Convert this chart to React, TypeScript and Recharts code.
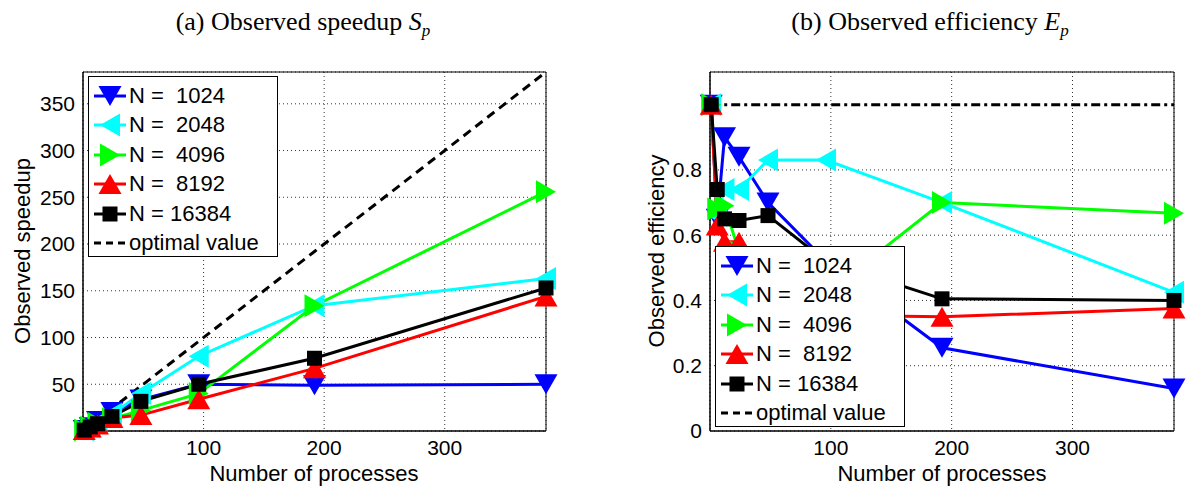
import { LineChart, Line, XAxis, YAxis, CartesianGrid, Legend, ReferenceArea } from 'recharts';

const sans = "'Liberation Sans', Arial, Helvetica, sans-serif";
const serif = "'Liberation Serif', 'Times New Roman', serif";

// number of processes
const procs = [1, 6, 12, 24, 48, 96, 192, 384];

const seriesNames = ['N =  1024', 'N =  2048', 'N =  4096', 'N =  8192', 'N = 16384'];
const colors = ['#0000ff', '#00ffff', '#00ff00', '#ff0000', '#000000'];
const markers = ['down', 'left', 'right', 'up', 'square'];

// observed speedup
const speedup1024 = [1, 3.9, 10.8, 20.2, 33.6, 50, 49, 50];
const speedup2048 = [1, 4.0, 8.9, 17.8, 40, 80, 134, 163];
const speedup4096 = [1, 4.1, 8.3, 13.2, 22, 40, 134, 256];
const speedup8192 = [1, 3.8, 7.0, 14.0, 17, 34, 67, 144];
const speedup16384 = [1, 4.4, 7.8, 15.5, 31.7, 50, 77.8, 153];
const optimalSpeedup = [1, 6, 12, 24, 48, 96, 192, 384];

// observed efficiency
const eff1024 = [1, 0.65, 0.9, 0.84, 0.7, 0.52, 0.255, 0.13];
const eff2048 = [1, 0.66, 0.74, 0.74, 0.83, 0.83, 0.7, 0.425];
const eff4096 = [1, 0.68, 0.69, 0.55, 0.46, 0.42, 0.7, 0.667];
const eff8192 = [1, 0.63, 0.58, 0.58, 0.355, 0.355, 0.35, 0.375];
const eff16384 = [1, 0.74, 0.65, 0.645, 0.66, 0.52, 0.405, 0.4];
const optimalEff = [1, 1, 1, 1, 1, 1, 1, 1];

const xTicks = [100, 200, 300];
const speedupTicks = [50, 100, 150, 200, 250, 300, 350];
const effTicks = [0, 0.2, 0.4, 0.6, 0.8];

const speedupSeries = [speedup1024, speedup2048, speedup4096, speedup8192, speedup16384];
const effSeries = [eff1024, eff2048, eff4096, eff8192, eff16384];

const buildData = (series: number[][], opt: number[]) =>
  procs.map((p, i) => {
    const row: any = { p, opt: opt[i] };
    series.forEach((s, k) => { row['s' + k] = s[i]; });
    return row;
  });

const speedupData = buildData(speedupSeries, optimalSpeedup);
const effData = buildData(effSeries, optimalEff);

const Marker = ({ kind, cx, cy, color }: any) => {
  if (cx == null || cy == null) return null;
  const w = 11.5, h = 10;
  if (kind === 'square') return <rect x={cx - 7.5} y={cy - 7.5} width={15} height={15} fill={color} />;
  let pts = '';
  if (kind === 'down') pts = `${cx - w},${cy - h} ${cx + w},${cy - h} ${cx},${cy + h}`;
  if (kind === 'up') pts = `${cx - w},${cy + h} ${cx + w},${cy + h} ${cx},${cy - h}`;
  if (kind === 'left') pts = `${cx + h},${cy - w} ${cx + h},${cy + w} ${cx - h},${cy}`;
  if (kind === 'right') pts = `${cx - h},${cy - w} ${cx - h},${cy + w} ${cx + h},${cy}`;
  return <polygon points={pts} fill={color} />;
};

const LegendBox = () => (
  <div style={{ background: '#fff', border: '1px solid #000', width: 190, height: 181, boxSizing: 'border-box', padding: '4px 0 0 4px', fontFamily: sans, fontSize: 22, color: '#000' }}>
    {seriesNames.map((n, i) => (
      <div key={n} style={{ display: 'flex', alignItems: 'center', height: 29.5 }}>
        <svg width={34} height={28}>
          <line x1={1} y1={14} x2={33} y2={14} stroke={colors[i]} strokeWidth={3} />
          <Marker kind={markers[i]} cx={17} cy={14} color={colors[i]} />
        </svg>
        <span style={{ whiteSpace: 'pre', marginLeft: 2 }}>{n}</span>
      </div>
    ))}
    <div style={{ display: 'flex', alignItems: 'center', height: 29.5 }}>
      <svg width={34} height={28}>
        <line x1={1} y1={14} x2={33} y2={14} stroke="#000" strokeWidth={3} strokeDasharray="7 5" />
      </svg>
      <span style={{ whiteSpace: 'pre', marginLeft: 2 }}>optimal value</span>
    </div>
  </div>
);

const SubChart = ({ data, yMax, yTicks, marginLeft, width, legendLeft, legendTop, optDash }: any) => (
  <LineChart width={width} height={487} data={data} margin={{ top: 72, right: 13, bottom: 26, left: marginLeft }}>
    <CartesianGrid stroke="#333" strokeDasharray="1 3" />
    <ReferenceArea x1={0} x2={384} y1={0} y2={yMax} fill="none" stroke="#000" strokeWidth={1} />
    <XAxis type="number" dataKey="p" domain={[0, 384]} ticks={xTicks} height={30} tickLine={false} tickSize={0} tickMargin={9}
      axisLine={{ stroke: '#000' }} tick={{ fill: '#000', fontFamily: sans, fontSize: 21 }} />
    <YAxis type="number" domain={[0, yMax]} ticks={yTicks} width={60} tickLine={false} tickSize={0} tickMargin={8}
      axisLine={{ stroke: '#000' }} tick={{ fill: '#000', fontFamily: sans, fontSize: 21 }} />
    <Legend layout="vertical" align="center" verticalAlign="middle" wrapperStyle={{ left: legendLeft, top: legendTop, width: 190 }}
      content={() => <LegendBox />} />
    {seriesNames.map((name, i) => (
      <Line key={name} type="linear" dataKey={'s' + i} stroke={colors[i]} strokeWidth={3} isAnimationActive={false} activeDot={false}
        dot={(props: any) => <Marker key={name + '-' + props.index} kind={markers[i]} cx={props.cx} cy={props.cy} color={colors[i]} />} />
    ))}
    <Line type="linear" dataKey="opt" stroke="#000" strokeWidth={3} strokeDasharray={optDash} dot={false} activeDot={false} isAnimationActive={false} />
  </LineChart>
);

const label = (text: string, x: number, y: number, rotate = false) => (
  <div style={{ position: 'absolute', left: x, top: y, transform: `translate(-50%, -50%)${rotate ? ' rotate(-90deg)' : ''}`,
    whiteSpace: 'nowrap', fontFamily: sans, fontSize: 22, lineHeight: 1, color: '#000' }}>{text}</div>
);

const App = () => {
  return (
    <div style={{ position: 'absolute', left: 0, top: 0, width: 1187, height: 487, background: '#fff', overflow: 'hidden' }}>
      <div style={{ position: 'absolute', left: 303, top: 24, transform: 'translate(-50%, -50%)', whiteSpace: 'nowrap', fontFamily: serif, fontSize: 26, lineHeight: 1 }}>
        (a) Observed speedup <i>S</i><sub style={{ fontSize: 17 }}><i>p</i></sub>
      </div>
      <div style={{ position: 'absolute', left: 930, top: 24, transform: 'translate(-50%, -50%)', whiteSpace: 'nowrap', fontFamily: serif, fontSize: 26, lineHeight: 1 }}>
        (b) Observed efficiency <i>E</i><sub style={{ fontSize: 17 }}><i>p</i></sub>
      </div>

      <div style={{ position: 'absolute', left: 0, top: 0 }}>
        <SubChart data={speedupData} yMax={384} yTicks={speedupTicks} marginLeft={23} width={559}
          legendLeft={88} legendTop={76} optDash="9 6" />
      </div>
      <div style={{ position: 'absolute', left: 600, top: 0 }}>
        <SubChart data={effData} yMax={1.1} yTicks={effTicks} marginLeft={50} width={587}
          legendLeft={115} legendTop={246} optDash="9 4 3 4" />
      </div>

      {label('Observed speedup', 23, 251, true)}
      {label('Observed efficiency', 657, 251, true)}
      {label('Number of processes', 314, 474)}
      {label('Number of processes', 942, 474)}
    </div>
  );
};

export default App;
